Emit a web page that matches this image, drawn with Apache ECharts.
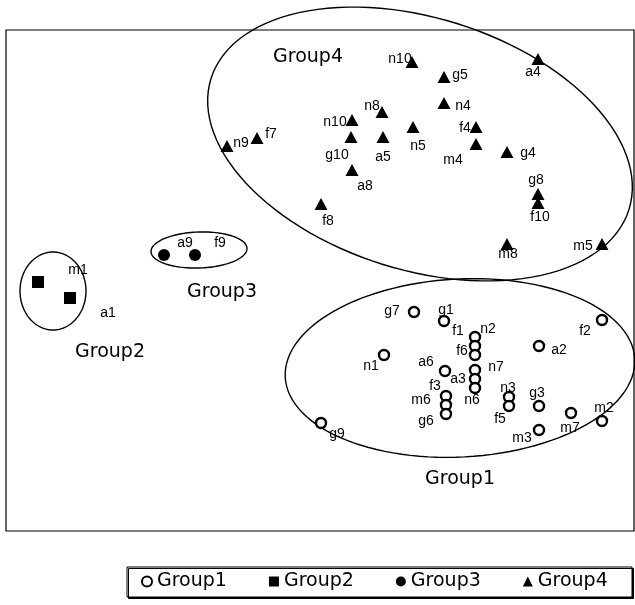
<!DOCTYPE html>
<html>
<head>
<meta charset="utf-8">
<script src="https://cdn.jsdelivr.net/npm/echarts@6/dist/echarts.min.js"></script>
<style>
  html, body { margin: 0; padding: 0; background: #fff; }
  #container { width: 635px; height: 605px; }
</style>
</head>
<body>
<div id="container"></div>
<script type="text/javascript">
// 数据：各组的点名称与坐标
var groupNames = ['Group1', 'Group2', 'Group3', 'Group4'];

var g1Names = ['g7', 'g1', 'n2', 'f1', 'f6', 'n1', 'a6', 'n7', 'a3', 'n6', 'f3', 'm6', 'g6', 'g9', 'a2', 'f2', 'n3', 'f5', 'g3', 'm7', 'm2', 'm3'];
var g1X = [408, 438, 469, 469, 469, 378, 439, 469, 469, 469, 440, 440, 440, 315, 533, 596, 503, 503, 533, 565, 596, 533];
var g1Y = [219, 210, 194, 185, 176, 176, 160, 161, 152, 143, 135, 126, 117, 108, 185, 211, 134, 125, 125, 118, 110, 101];

var g2Names = ['m1', 'a1'];
var g2X = [32, 64];
var g2Y = [249, 233];

var g3Names = ['a9', 'f9'];
var g3X = [158, 189];
var g3Y = [276, 276];

var g4Names = ['n10', 'g5', 'a4', 'n4', 'n8', 'n10', 'g10', 'a5', 'n5', 'f4', 'm4', 'g4', 'n9', 'f7', 'a8', 'g8', 'f10', 'f8', 'm8', 'm5'];
var g4X = [406, 438, 532, 438, 376, 346, 345, 377, 407, 470, 470, 501, 221, 251, 346, 532, 532, 315, 501, 596];
var g4Y = [469, 454, 472, 428, 419, 411, 394, 394, 404, 404, 387, 379, 385, 393, 361, 337, 328, 327, 287, 287];

// 椭圆：中心、半轴、旋转角度
var ellCx = [454, 47, 193, 414];
var ellCy = [163, 240, 281, 387];
var ellRx = [175, 33, 48, 219];
var ellRy = [89, 39, 18, 126];
var ellAngle = [-3, 0, -2, 17.4];

// 组名标签位置
var grpLabelX = [454, 104, 216, 302];
var grpLabelY = [52, 179, 239, 474];

// 点标签偏移（像素）
var g1Off = [[-22, -1], [2, -11], [13, -8], [-17, -15], [-13, -4], [-13, 11], [-19, -9], [21, -3], [-17, 0], [-3, 12],
  [-11, -10], [-25, -5], [-20, 7], [16, 11], [20, 4], [-17, 11], [-1, -9], [-9, 13], [-2, -13], [-1, 15], [2, -13], [-17, 8]];
var g2Off = [[40, -12], [38, 15]];
var g3Off = [[21, -12], [25, -12]];
var g4Off = [[-12, -3], [16, -2], [-5, 13], [19, 3], [-10, -6], [-17, 2], [-14, 18], [0, 20], [5, 19], [-11, 1],
  [-23, 16], [21, 1], [14, -3], [14, -4], [13, 16], [-2, -14], [2, 14], [7, 17], [1, 10], [-19, 2]];

function buildPoints(names, xs, ys, offs) {
  var out = [];
  for (var i = 0; i < names.length; i++) {
    out.push({ name: names[i], value: [xs[i], ys[i]], label: { offset: offs[i] } });
  }
  return out;
}

var ellData = [];
for (var i = 0; i < ellCx.length; i++) {
  ellData.push([ellCx[i], ellCy[i], ellRx[i], ellRy[i], ellAngle[i]]);
}
var grpLabelData = [];
for (var j = 0; j < groupNames.length; j++) {
  grpLabelData.push([grpLabelX[j], grpLabelY[j], groupNames[j]]);
}

function renderEllipse(params, api) {
  var c = api.coord([api.value(0), api.value(1)]);
  var s = api.size([api.value(2), api.value(3)]);
  var ang = api.value(4) * Math.PI / 180;
  var pts = [];
  for (var k = 0; k <= 120; k++) {
    var t = k / 120 * 2 * Math.PI;
    var ex = s[0] * Math.cos(t), ey = s[1] * Math.sin(t);
    pts.push([c[0] + ex * Math.cos(ang) - ey * Math.sin(ang), c[1] + ex * Math.sin(ang) + ey * Math.cos(ang)]);
  }
  return {
    type: 'polygon',
    shape: { points: pts },
    style: { fill: 'none', stroke: '#000', lineWidth: 1.4 }
  };
}

function renderGroupLabel(params, api) {
  var c = api.coord([api.value(0), api.value(1)]);
  return {
    type: 'text',
    x: c[0],
    y: c[1],
    style: {
      text: grpLabelData[params.dataIndex][2],
      fill: '#000',
      font: '19px "DejaVu Sans"',
      align: 'center',
      verticalAlign: 'middle'
    }
  };
}

var pointLabel = {
  show: true,
  position: 'inside',
  formatter: '{b}',
  color: '#000',
  fontSize: 14,
  fontFamily: 'Liberation Sans'
};

var dom = document.getElementById('container');
var myChart = echarts.init(dom);

var option = {
  animation: false,
  grid: {
    left: 6, right: 1, top: 30, bottom: 74,
    show: true,
    borderColor: '#000',
    borderWidth: 1.2,
    backgroundColor: 'transparent'
  },
  xAxis: { type: 'value', min: 0, max: 628, show: false },
  yAxis: { type: 'value', min: 0, max: 501, show: false },
  // 图例外框
  graphic: [{
    type: 'rect',
    z: 0,
    shape: { x: 127, y: 567, width: 505, height: 30 },
    style: {
      fill: '#fff',
      stroke: '#000',
      lineWidth: 1,
      shadowColor: '#000',
      shadowBlur: 0,
      shadowOffsetX: 1.5,
      shadowOffsetY: 1.5
    }
  }],
  legend: {
    data: groupNames,
    left: 141,
    top: 572,
    orient: 'horizontal',
    padding: 0,
    itemGap: 42,
    itemWidth: 10,
    itemHeight: 10,
    selectedMode: false,
    textStyle: { color: '#000', fontSize: 19, fontFamily: 'DejaVu Sans' }
  },
  series: [
    {
      type: 'custom',
      name: 'ellipses',
      renderItem: renderEllipse,
      data: ellData,
      silent: true,
      z: 1
    },
    {
      type: 'custom',
      name: 'groupLabels',
      renderItem: renderGroupLabel,
      data: grpLabelData,
      silent: true,
      z: 1
    },
    {
      name: 'Group1',
      type: 'scatter',
      symbol: 'circle',
      symbolSize: 10,
      itemStyle: { color: '#fff', borderColor: '#000', borderWidth: 2.4, opacity: 1 },
      label: pointLabel,
      data: buildPoints(g1Names, g1X, g1Y, g1Off),
      z: 3
    },
    {
      name: 'Group2',
      type: 'scatter',
      symbol: 'rect',
      symbolSize: 12,
      itemStyle: { color: '#000', opacity: 1 },
      label: pointLabel,
      data: buildPoints(g2Names, g2X, g2Y, g2Off),
      z: 3
    },
    {
      name: 'Group3',
      type: 'scatter',
      symbol: 'circle',
      symbolSize: 12,
      itemStyle: { color: '#000', opacity: 1 },
      label: pointLabel,
      data: buildPoints(g3Names, g3X, g3Y, g3Off),
      z: 3
    },
    {
      name: 'Group4',
      type: 'scatter',
      symbol: 'triangle',
      symbolSize: [13, 12],
      itemStyle: { color: '#000', opacity: 1 },
      label: pointLabel,
      data: buildPoints(g4Names, g4X, g4Y, g4Off),
      z: 3
    }
  ]
};

if (option && typeof option === 'object') {
  myChart.setOption(option, true);
}
</script>
</body>
</html>
